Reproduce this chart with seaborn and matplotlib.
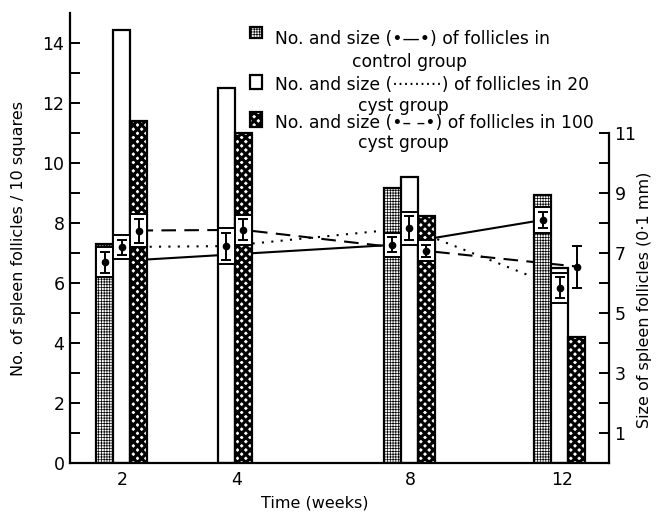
import matplotlib
matplotlib.use("Agg")
import matplotlib.pyplot as plt
from matplotlib.patches import Rectangle
import seaborn as sns
import pandas as pd

# --- data ---
weeks = [2, 4, 8, 12]
groups = ["control", "20 cyst", "100 cyst"]

# number of spleen follicles / 10 squares (left axis); None = no value
count_control = [7.3, None, 9.17, 8.95]
count_20 = [14.45, 12.5, 9.55, 6.5]
count_100 = [11.4, 11.0, 8.25, 4.2]

# size of spleen follicles in 0.1 mm (right axis) and its error
size_control = [6.7, None, 7.27, 8.1]
size_20 = [7.2, 7.23, 7.83, 5.85]
size_100 = [7.75, 7.77, 7.07, 6.55]
err_control = [0.35, None, 0.25, 0.27]
err_20 = [0.25, 0.45, 0.4, 0.35]
err_100 = [0.4, 0.35, 0.2, 0.7]

# --- layout (hand-drawn, uneven time axis) ---
group_pos = [3.03, 9.2, 19.95, 28.8]
tick_pos = [3.06, 9.8, 20.0, 28.93]
offsets = [-1, 0, 1]
bar_w = 1.0

sns.set_style("ticks")
plt.rcParams["font.family"] = ["DejaVu Sans"]
plt.rcParams["hatch.linewidth"] = 1.0
for key in ["text.color", "axes.labelcolor", "xtick.color", "ytick.color",
            "axes.edgecolor"]:
    plt.rcParams[key] = "black"

W, H = 657, 519
fig = plt.figure(figsize=(W / 100, H / 100), dpi=100)
ax = fig.add_axes([70 / W, 1 - 463 / H, 539 / W, 450 / H])
ax.set_xlim(0, 539 / 17)
ax.set_ylim(0, 15.0)

counts = [count_control, count_20, count_100]
sizes = [size_control, size_20, size_100]
errs = [err_control, err_20, err_100]
hatches = ["++++++", "", "xxxx"]
hatch_lw = [0.5, 1.0, 2.2]


def set_hlw(patch, lw):
    # per-patch hatch width where the matplotlib version allows it
    if hasattr(patch, "set_hatch_linewidth"):
        patch.set_hatch_linewidth(lw)


# size lines (behind the bars)
rows = []
for g, name in enumerate(groups):
    for i, wk in enumerate(weeks):
        if sizes[g][i] is not None:
            rows.append({"x": group_pos[i] + offsets[g], "size": sizes[g][i], "group": name})
df = pd.DataFrame(rows)
sns.lineplot(data=df, x="x", y="size", hue="group", style="group",
             palette={n: "black" for n in groups},
             dashes={"control": "", "20 cyst": (1, 3.5), "100 cyst": (7, 4)},
             estimator=None, sort=False, legend=False, linewidth=1.5,
             ax=ax, zorder=1)

for g in range(3):
    for i in range(len(weeks)):
        h = counts[g][i]
        if h is None:
            continue
        x = group_pos[i] + offsets[g]
        bars = ax.bar(x, h, width=bar_w, color="white", edgecolor="black",
                      hatch=hatches[g], linewidth=1.6, zorder=2)
        for b in bars:
            set_hlw(b, hatch_lw[g])
        m, e = sizes[g][i], errs[g][i]
        lo, hi = m - e - 0.15, min(m + e + 0.15, h)
        if lo < h:
            ax.add_patch(Rectangle((x - bar_w / 2, lo), bar_w, hi - lo,
                                   facecolor="white", edgecolor="black",
                                   linewidth=1.4, zorder=3))
        ax.errorbar(x, m, yerr=e, fmt="o", color="black", markersize=4.5,
                    capsize=3.5, elinewidth=1.4, capthick=1.4, zorder=4)

ax.spines["top"].set_visible(False)
ax.spines["right"].set_visible(False)
for s in ["left", "bottom"]:
    ax.spines[s].set_linewidth(1.6)

ax.set_yticks(range(0, 15, 2))
ax.set_yticks(range(1, 15, 2), minor=True)
ax.tick_params(axis="y", which="both", direction="in", length=7, width=1.4,
               labelsize=12.5, pad=4)
ax.set_xticks(tick_pos)
ax.set_xticklabels([str(w) for w in weeks])
ax.tick_params(axis="x", length=0, labelsize=12.5, pad=6)
ax.set_xlabel("")
ax.set_ylabel("No. of spleen follicles / 10 squares", fontsize=11.5, labelpad=12)
fig.text(315 / W, 1 - 503 / H, "Time (weeks)", ha="center", va="center",
         fontsize=11.5)

ax2 = ax.twinx()
ax2.set_ylim(ax.get_ylim())
ax2.spines["top"].set_visible(False)
ax2.spines["left"].set_visible(False)
ax2.spines["bottom"].set_visible(False)
ax2.spines["right"].set_linewidth(1.6)
ax2.spines["right"].set_bounds(0, 11)
ax2.set_yticks(range(1, 12, 2))
ax2.set_yticks(range(2, 12, 2), minor=True)
ax2.tick_params(axis="y", which="both", direction="in", length=7, width=1.4,
                labelsize=12.5, pad=4)
fig.text(645 / W, 1 - 300 / H, "Size of spleen follicles (0·1 mm)",
         rotation=90, ha="center", va="center", fontsize=11.5)

# --- legend drawn as text block ---
def fx(px):
    return px / W


def fy(py):
    return 1 - py / H


legend_lines = [
    (275, 39, "No. and size (•—•) of follicles in", "left"),
    (410, 62, "control group", "center"),
    (275, 85, "No. and size (·········) of follicles in 20", "left"),
    (403, 106, "cyst group", "center"),
    (275, 123, "No. and size (•– –•) of follicles in 100", "left"),
    (403, 143, "cyst group", "center"),
]
for x, y, txt, ha in legend_lines:
    fig.text(fx(x), fy(y), txt, ha=ha, va="center", fontsize=12.3)

for (y0, y1), hatch, hl in zip([(27, 38), (75, 89), (112, 127)], hatches, hatch_lw):
    p = Rectangle((fx(250), fy(y1)), 12 / W, (y1 - y0) / H,
                  transform=fig.transFigure, facecolor="white",
                  edgecolor="black", hatch=hatch, linewidth=1.6)
    set_hlw(p, hl)
    fig.patches.append(p)

fig.savefig("out.png", dpi=100)
